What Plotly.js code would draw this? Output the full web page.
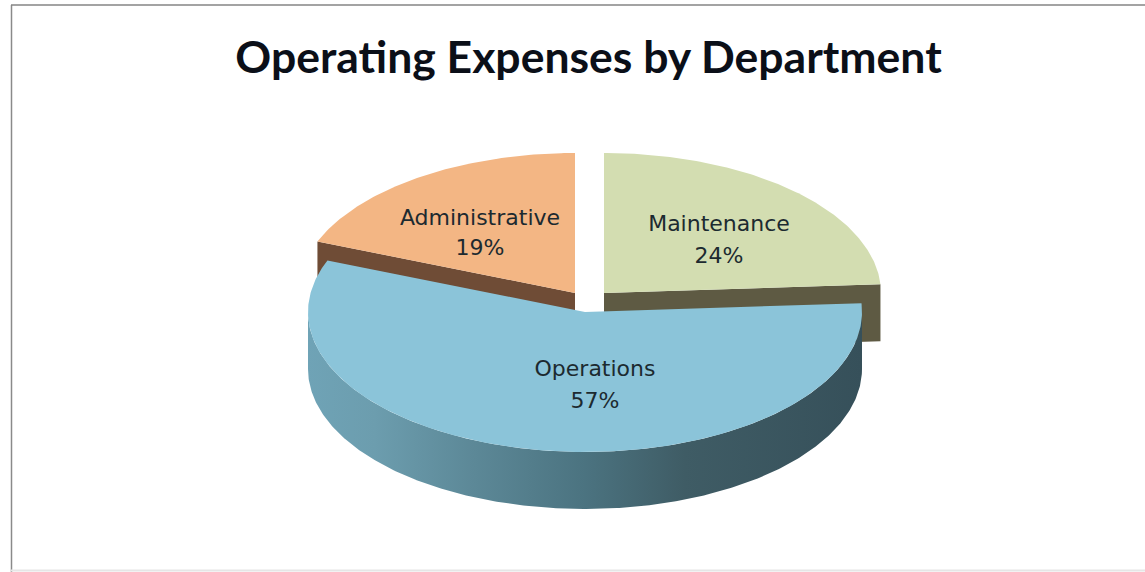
<!DOCTYPE html>
<html>
<head>
<meta charset="utf-8">
<script src="https://cdn.plot.ly/plotly-3.0.1.min.js"></script>
<style>html,body{margin:0;padding:0;background:#fff;overflow:hidden}#chart{width:1145px;height:572px}</style>
</head>
<body>
<div id="chart"></div>
<script>
// Data
const categories = ['Maintenance', 'Operations', 'Administrative'];
const shares = [24, 57, 19];

// Styling
const topColors = ['#d3ddb1', '#8bc4d9', '#f3b684'];
const cutColors = ['#5e5a43', '#3f5a62', '#6f4c36'];
const wallScale = [[0,'#6fa3b6'],[0.12,'#6c9dae'],[0.3,'#5c8897'],[0.5,'#4b7380'],[0.68,'#3f5c65'],[1,'#36505a']];

// Geometry, in radii of the pie (x: 277px, y: 140px per unit)
const W = 1145, H = 572, RX = 277, RY = 140, CX = 585, CY = 312;
const depth = 57 / RY;
const explode = [[19 / RX, 19 / RY], [0, 0], [-10 / RX, 19 / RY]];
const nameAt = [[134 / RX, 87 / RY], [10 / RX, -58 / RY], [-105 / RX, 93 / RY]];
const pctAt  = [[134 / RX, 55 / RY], [10 / RX, -90 / RY], [-105 / RX, 63 / RY]];

const total = shares.reduce((a, b) => a + b, 0);
const rad = s => s / total * 2 * Math.PI;
let acc = 0;
const slices = shares.map((v, i) => {
  const a0 = rad(acc); acc += v; const a1 = rad(acc);
  return {a0, a1, dx: explode[i][0], dy: explode[i][1]};
});
const arc = (a0, a1, dx, dy) => {
  const n = Math.max(2, Math.ceil(Math.abs(a1 - a0) / 0.01));
  const xs = [], ys = [];
  for (let k = 0; k <= n; k++) {
    const a = a0 + (a1 - a0) * k / n;
    xs.push(dx + Math.sin(a)); ys.push(dy + Math.cos(a));
  }
  return [xs, ys];
};
const poly = (x, y, color, extra) => Object.assign({
  type: 'scatter', mode: 'lines', x, y, fill: 'toself', fillcolor: color,
  line: {width: 0, color}, hoverinfo: 'skip', showlegend: false
}, extra || {});
const sector = (s, color) => {
  const [xs, ys] = arc(s.a0, s.a1, s.dx, s.dy);
  return poly([s.dx, ...xs, s.dx], [s.dy, ...ys, s.dy], color);
};
// flat cut face along one radius of a slice
const cut = (s, a, color) => {
  const px = s.dx + Math.sin(a), py = s.dy + Math.cos(a);
  return poly([s.dx, px, px, s.dx, s.dx], [s.dy, py, py - depth, s.dy - depth, s.dy], color);
};

const traces = [];
// back slices: cut faces, then tops
traces.push(cut(slices[0], slices[0].a1, cutColors[0]));
traces.push(cut(slices[2], slices[2].a0, cutColors[2]));
traces.push(sector(slices[0], topColors[0]));
traces.push(sector(slices[2], topColors[2]));
// front slice: curved wall with gradient, then top
const [wx, wy] = arc(Math.PI / 2, 3 * Math.PI / 2, 0, 0);
traces.push(poly(
  [...wx, ...wx.slice().reverse(), wx[0]],
  [...wy, ...wy.map(v => v - depth).reverse(), wy[0]],
  '#4b7380',
  {fillcolor: undefined, fillgradient: {type: 'horizontal', colorscale: wallScale}}
));
traces.push(sector(slices[1], topColors[1]));
// labels
const lf = {family: 'DejaVu Sans, Verdana, sans-serif', size: 22, color: '#1c2a30'};
traces.push({type: 'scatter', mode: 'text', x: nameAt.map(p => p[0]), y: nameAt.map(p => p[1]),
  text: categories, textfont: lf, textposition: 'middle center', hoverinfo: 'skip', showlegend: false});
traces.push({type: 'scatter', mode: 'text', x: pctAt.map(p => p[0]), y: pctAt.map(p => p[1]),
  text: shares.map(v => v + '%'), textfont: lf, textposition: 'middle center', hoverinfo: 'skip', showlegend: false});

const hidden = {visible: false, fixedrange: true};
const layout = {
  width: W, height: H,
  margin: {l: 0, r: 0, t: 0, b: 0},
  paper_bgcolor: '#ffffff', plot_bgcolor: '#ffffff',
  showlegend: false,
  title: {text: '<b>Operating Expenses by Department</b>', x: 588.5 / W, xanchor: 'center', y: 1 - 57 / H, yanchor: 'middle',
    font: {family: 'Lato, Carlito, sans-serif', size: 44.5, color: '#0b0f18'}},
  xaxis: Object.assign({range: [-CX / RX, (W - CX) / RX]}, hidden),
  yaxis: Object.assign({range: [(CY - H) / RY, CY / RY]}, hidden),
  shapes: [
    {type: 'line', xref: 'paper', yref: 'paper', x0: 11.5 / W, x1: 11.5 / W, y0: 0, y1: 1 - 5 / H, line: {color: '#8a8a8a', width: 1.5}},
    {type: 'line', xref: 'paper', yref: 'paper', x0: 11 / W, x1: 1, y0: 1 - 5 / H, y1: 1 - 5 / H, line: {color: '#858585', width: 1.5}},
    {type: 'line', xref: 'paper', yref: 'paper', x0: 11 / W, x1: 1, y0: 1 - 570.5 / H, y1: 1 - 570.5 / H, line: {color: '#e6e6e6', width: 2}}
  ]
};
Plotly.newPlot('chart', traces, layout, {displayModeBar: false, staticPlot: true});
</script>
</body>
</html>
